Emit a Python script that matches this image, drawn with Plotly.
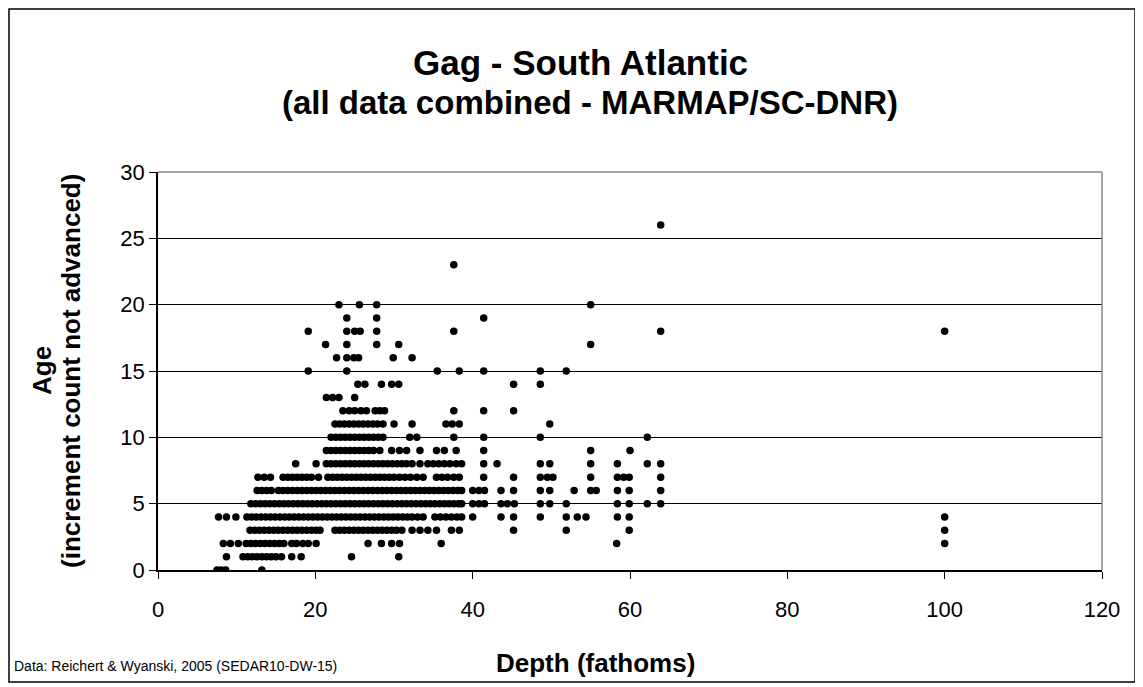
import plotly.graph_objects as go

# Depth (fathoms) of each fish, grouped by age (increment count)
age_0 = [7.5, 8.0, 8.6, 13.2]
age_1 = [8.7, 10.8, 11.4, 12.0, 12.6, 13.2, 13.8, 14.4, 15.0, 15.7, 17.0, 18.2, 24.6, 30.6]
age_2 = [8.3, 9.2, 10.2, 11.2, 11.8, 12.4, 13.0, 13.6, 14.2, 14.8, 15.4, 16.0, 17.0, 17.6,
         18.4, 19.1, 20.1, 26.7, 28.4, 29.7, 30.7, 36.0, 58.3, 100.0]
age_3 = [11.7, 12.3, 12.9, 13.5, 14.1, 14.7, 15.3, 15.9, 16.5, 17.1, 17.7, 18.3, 18.9, 19.5,
         20.1, 20.6, 22.5, 23.1, 23.7, 24.3, 24.9, 25.5, 26.1, 26.7, 27.3, 27.9, 28.5, 29.1,
         29.7, 30.3, 31.0, 32.3, 33.3, 34.3, 35.4, 37.3, 38.3, 45.2, 51.9, 59.9, 100.0]
age_4 = [7.7, 8.7, 9.9, 11.3, 11.9, 12.5, 13.1, 13.7, 14.3, 14.9, 15.5, 16.1, 16.7, 17.3,
         17.9, 18.5, 19.1, 19.7, 20.3, 20.9, 21.5, 22.1, 22.7, 23.3, 23.9, 24.5, 25.1, 25.7,
         26.3, 26.9, 27.5, 28.1, 28.7, 29.3, 29.9, 30.5, 31.1, 31.7, 32.3, 33.0, 33.7, 35.2,
         35.9, 36.6, 37.3, 38.0, 38.6, 40.0, 43.6, 45.2, 48.6, 51.9, 53.3, 54.4, 58.4, 59.9,
         100.0]
age_5 = [11.8, 12.4, 13.0, 13.6, 14.2, 14.8, 15.4, 16.0, 16.6, 17.2, 17.8, 18.4, 19.0, 19.6,
         20.2, 20.8, 21.4, 22.0, 22.6, 23.2, 23.8, 24.4, 25.0, 25.6, 26.2, 26.8, 27.4, 28.0,
         28.6, 29.2, 29.8, 30.4, 31.0, 31.6, 32.2, 32.8, 33.4, 34.0, 34.6, 35.2, 35.8, 36.4,
         37.0, 37.6, 38.2, 38.6, 40.0, 40.8, 41.5, 43.6, 44.4, 45.3, 48.6, 49.8, 51.9, 58.4,
         59.9, 62.2, 63.9]
age_6 = [12.6, 13.2, 13.8, 14.4, 15.3, 15.9, 16.5, 17.1, 17.7, 18.3, 18.9, 19.5, 20.1, 20.7,
         21.3, 21.9, 22.5, 23.1, 23.7, 24.3, 24.9, 25.5, 26.1, 26.7, 27.3, 27.9, 28.5, 29.1,
         29.7, 30.3, 30.9, 31.5, 32.1, 32.7, 33.3, 33.9, 34.5, 35.1, 35.7, 36.3, 36.9, 37.5,
         38.1, 38.6, 40.0, 40.8, 41.5, 43.6, 45.2, 48.6, 49.8, 52.9, 55.0, 55.7, 58.4, 59.9,
         63.9]
age_7 = [12.7, 13.5, 14.3, 15.9, 16.5, 17.1, 17.7, 18.3, 18.9, 19.5, 20.4, 21.6, 22.2, 22.8,
         23.4, 24.0, 24.6, 25.2, 25.8, 26.4, 27.0, 27.6, 28.2, 28.8, 29.4, 30.0, 30.7, 31.4,
         32.1, 32.9, 33.7, 35.4, 36.1, 36.8, 37.6, 38.3, 41.4, 45.2, 48.6, 49.5, 50.2, 55.0,
         58.4, 59.2, 59.9, 63.9]
age_8 = [17.5, 20.1, 21.4, 22.0, 22.6, 23.2, 23.8, 24.4, 25.0, 25.6, 26.2, 26.8, 27.4, 28.0,
         28.6, 29.2, 29.8, 30.4, 31.0, 31.6, 32.3, 33.3, 34.3, 35.0, 35.7, 36.4, 37.1, 37.9,
         38.6, 41.4, 43.1, 48.6, 49.8, 55.0, 58.4, 62.2, 63.9]
age_9 = [21.4, 22.0, 22.6, 23.2, 23.8, 24.4, 25.0, 25.6, 26.2, 26.8, 27.4, 28.2, 29.7, 30.7,
         31.6, 33.3, 35.4, 36.4, 37.9, 41.4, 55.0, 60.0]
age_10 = [22.0, 22.6, 23.2, 23.8, 24.4, 25.0, 25.6, 26.2, 26.8, 27.4, 28.0, 28.6, 32.0, 32.9,
          37.6, 41.4, 48.6, 62.2]
age_11 = [22.5, 23.1, 23.7, 24.3, 24.9, 25.5, 26.1, 26.7, 27.3, 27.9, 28.6, 30.0, 32.3, 36.6,
          37.4, 38.3, 49.8]
age_12 = [23.5, 24.3, 25.0, 25.8, 26.5, 27.6, 28.2, 28.8, 37.6, 41.4, 45.2]
age_13 = [21.4, 22.2, 23.0, 25.0]
age_14 = [25.4, 26.3, 28.4, 29.7, 30.6, 45.2, 48.6]
age_15 = [19.1, 24.0, 35.5, 38.3, 41.4, 48.6, 51.9]
age_16 = [22.7, 24.0, 24.9, 25.5, 29.9, 32.3]
age_17 = [21.3, 24.0, 27.8, 30.6, 55.0]
age_18 = [19.1, 24.0, 25.0, 25.7, 27.8, 37.6, 63.9, 100.0]
age_19 = [24.0, 27.8, 41.4]
age_20 = [23.0, 25.6, 27.8, 55.0]
age_23 = [37.6]
age_26 = [63.9]

rows = {0: age_0, 1: age_1, 2: age_2, 3: age_3, 4: age_4, 5: age_5, 6: age_6, 7: age_7,
        8: age_8, 9: age_9, 10: age_10, 11: age_11, 12: age_12, 13: age_13, 14: age_14,
        15: age_15, 16: age_16, 17: age_17, 18: age_18, 19: age_19, 20: age_20,
        23: age_23, 26: age_26}

depth, age = [], []
for a, ds in rows.items():
    for d in ds:
        depth.append(d)
        age.append(a)

x_ticks = [0, 20, 40, 60, 80, 100, 120]
y_ticks = [0, 5, 10, 15, 20, 25, 30]

title_line1 = "<b>Gag - South Atlantic</b>"
title_line2 = "<b>(all data combined - MARMAP/SC-DNR)</b>"
x_title = "<b>Depth (fathoms)</b>"
y_title1 = "<b>Age</b>"
y_title2 = "<b>(increment count not advanced)</b>"
source = "Data: Reichert & Wyanski, 2005 (SEDAR10-DW-15)"

FONT = "Liberation Sans, Arial, sans-serif"

# figure pixel geometry (plot area)
L, T, PW, PH = 150, 164, 944, 398
W, H = 1143, 687


def px(fx):
    return (fx - L) / PW


def py(fy):
    return (T + PH - fy) / PH


fig = go.Figure(go.Scatter(
    x=depth, y=age, mode="markers",
    marker=dict(color="black", size=7.5, line=dict(width=0)),
    hoverinfo="x+y", showlegend=False,
))

fig.update_layout(
    width=W, height=H,
    margin=dict(l=L, r=W - L - PW, t=T, b=H - T - PH),
    paper_bgcolor="white", plot_bgcolor="white",
    font=dict(family=FONT, color="black", size=22),
)

fig.update_xaxes(
    range=[0, 120], tickvals=x_ticks, ticks="outside", ticklen=7, tickcolor="black",
    showline=True, linecolor="black", linewidth=1.5, showgrid=False, zeroline=False,
    ticklabelstandoff=12, tickfont=dict(size=22),
)
fig.update_yaxes(
    range=[0, 30], tickvals=y_ticks, ticks="outside", ticklen=7, tickcolor="black",
    showline=True, linecolor="black", linewidth=1.5, showgrid=True, gridcolor="black",
    gridwidth=1, zeroline=False, tickfont=dict(size=22),
)

# gray top and right frame of plot area
fig.add_shape(type="line", xref="paper", yref="paper", x0=0, x1=1, y0=1, y1=1,
              line=dict(color="#888888", width=1.5))
fig.add_shape(type="line", xref="paper", yref="paper", x0=1, x1=1, y0=0, y1=1,
              line=dict(color="#888888", width=1.5))
# outer chart border
fig.add_shape(type="rect", xref="paper", yref="paper",
              x0=px(1), x1=px(1127), y0=py(674), y1=py(1),
              line=dict(color="black", width=1.5), fillcolor="rgba(0,0,0,0)", layer="below")


def note(text, fx, fy, size, xanchor="center", angle=0):
    fig.add_annotation(text=text, xref="paper", yref="paper", x=px(fx), y=py(fy),
                       xanchor=xanchor, yanchor="middle", showarrow=False, textangle=angle,
                       font=dict(size=size, family=FONT, color="black"))


note(title_line1, 572, 55, 35)
note(title_line2, 582, 94, 33)
note(x_title, 587, 655, 26)
note(y_title1, 34, 363, 26, angle=-90)
note(y_title2, 63, 363, 26, angle=-90)
note(source, 4, 658, 14, xanchor="left")

fig.write_html("out.html")
